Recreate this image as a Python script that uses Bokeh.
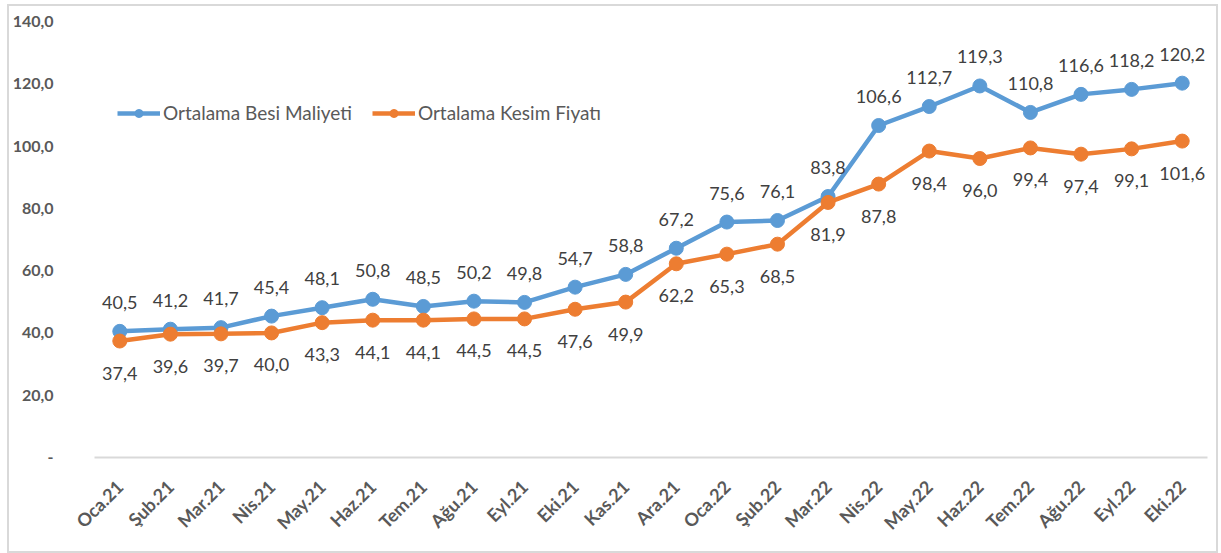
from bokeh.plotting import figure
from bokeh.models import Range1d, FactorRange, FixedTicker, LabelSet, ColumnDataSource, Legend, LegendItem
from bokeh.core.properties import value
from bokeh.embed import file_html
from bokeh.resources import INLINE
import math

months = ["Oca.21", "Şub.21", "Mar.21", "Nis.21", "May.21", "Haz.21", "Tem.21", "Ağu.21",
          "Eyl.21", "Eki.21", "Kas.21", "Ara.21", "Oca.22", "Şub.22", "Mar.22", "Nis.22",
          "May.22", "Haz.22", "Tem.22", "Ağu.22", "Eyl.22", "Eki.22"]
besi_maliyeti = [40.5, 41.2, 41.7, 45.4, 48.1, 50.8, 48.5, 50.2, 49.8, 54.7, 58.8, 67.2,
                 75.6, 76.1, 83.8, 106.6, 112.7, 119.3, 110.8, 116.6, 118.2, 120.2]
kesim_fiyati = [37.4, 39.6, 39.7, 40.0, 43.3, 44.1, 44.1, 44.5, 44.5, 47.6, 49.9, 62.2,
                65.3, 68.5, 81.9, 87.8, 98.4, 96.0, 99.4, 97.4, 99.1, 101.6]
y_ticks = [0, 20, 40, 60, 80, 100, 120, 140]
series_names = ["Ortalama Besi Maliyeti", "Ortalama Kesim Fiyatı"]

BLUE = "#5B9BD5"
ORANGE = "#ED7D31"
FONT = "Lato"

def fmt(v):
    return f"{v:.1f}".replace(".", ",")

p = figure(width=1207, height=545, x_range=FactorRange(*months), y_range=Range1d(0, 140),
           output_backend="svg", toolbar_location=None,
           min_border_left=83, min_border_right=13, min_border_top=15, min_border_bottom=98)
p.margin = (4, 0, 0, 7)
p.styles = {"border": "2px solid #D9D9D9", "box-sizing": "content-box"}
p.outline_line_color = None
p.xgrid.grid_line_color = None
p.ygrid.grid_line_color = None

src = ColumnDataSource(dict(x=months, b=besi_maliyeti, k=kesim_fiyati,
                            bl=[fmt(v) for v in besi_maliyeti], kl=[fmt(v) for v in kesim_fiyati]))

lb = p.line("x", "b", source=src, line_color=BLUE, line_width=4.5)
sb = p.scatter("x", "b", source=src, size=14, fill_color=BLUE, line_color=BLUE)
lk = p.line("x", "k", source=src, line_color=ORANGE, line_width=4.5)
sk = p.scatter("x", "k", source=src, size=14, fill_color=ORANGE, line_color=ORANGE)

p.add_layout(LabelSet(x="x", y="b", text="bl", source=src, y_offset=29, text_align="center",
                      text_baseline="middle", text_font=value(FONT), text_font_size="18px",
                      text_color="#404040"))
p.add_layout(LabelSet(x="x", y="k", text="kl", source=src, y_offset=-32, text_align="center",
                      text_baseline="middle", text_font=value(FONT), text_font_size="18px",
                      text_color="#404040"))

legend = Legend(items=[LegendItem(label=series_names[0], renderers=[lb, sb]),
                       LegendItem(label=series_names[1], renderers=[lk, sk])],
                orientation="horizontal", location=(23, 333), padding=0, margin=0, spacing=20,
                glyph_width=43, glyph_height=20, label_standoff=3,
                label_text_font=FONT, label_text_font_size="19px", label_text_color="#595959",
                background_fill_alpha=0, border_line_color=None)
p.add_layout(legend, "center")

p.yaxis.ticker = FixedTicker(ticks=y_ticks)
p.yaxis.major_label_overrides = {t: ("-" if t == 0 else fmt(t)) for t in y_ticks}
p.yaxis.axis_line_color = None
p.yaxis.major_tick_line_color = None
p.yaxis.minor_tick_line_color = None
p.yaxis.major_label_standoff = 35
p.yaxis.major_label_text_font = FONT
p.yaxis.major_label_text_font_style = "bold"
p.yaxis.major_label_text_font_size = "16px"
p.yaxis.major_label_text_color = "#595959"

p.xaxis.axis_line_color = "#D9D9D9"
p.xaxis.axis_line_width = 2
p.xaxis.major_tick_line_color = None
p.xaxis.minor_tick_line_color = None
p.xaxis.major_label_orientation = math.pi / 4
p.xaxis.major_label_standoff = 20
p.xaxis.major_label_text_font = FONT
p.xaxis.major_label_text_font_style = "bold"
p.xaxis.major_label_text_font_size = "18px"
p.xaxis.major_label_text_color = "#595959"

open("out.html", "w").write(file_html(p, INLINE))
